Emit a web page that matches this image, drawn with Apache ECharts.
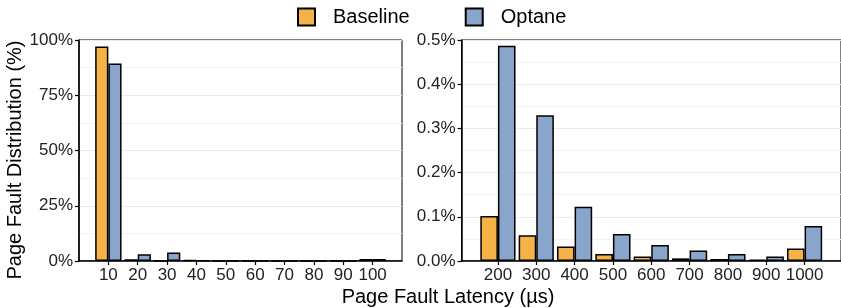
<!DOCTYPE html>
<html>
<head>
<meta charset="utf-8">
<script src="https://cdn.jsdelivr.net/npm/echarts@6/dist/echarts.min.js"></script>
<style>
  html, body { margin: 0; padding: 0; background: #fff; }
  #chart { width: 841px; height: 308px; }
</style>
</head>
<body>
<div id="chart"></div>
<script>
// 左图：延迟 10~100 µs 的分布（%）
const lowLatency = [10, 20, 30, 40, 50, 60, 70, 80, 90, 100];
const lowBaseline = [97.1, 0.8, 0.1, 0.4, 0.05, 0.05, 0.05, 0.05, 0.05, 0.9];
const lowOptane = [89.4, 3.0, 3.9, 0.3, 0.05, 0.05, 0.05, 0.05, 0.05, 0.9];

// 右图：延迟 200~1000 µs 的分布（%）
const highLatency = [200, 300, 400, 500, 600, 700, 800, 900, 1000];
const highBaseline = [0.102, 0.058, 0.033, 0.016, 0.010, 0.006, 0.0045, 0.003, 0.028];
const highOptane = [0.487, 0.330, 0.123, 0.061, 0.036, 0.024, 0.016, 0.010, 0.079];

const ORANGE = '#F5B347';
const BLUE = '#89A5CB';
const FONT = 'Liberation Sans';

function pairs(xs, ys) {
    return xs.map((x, i) => [x, ys[i]]);
}

function xAxisOf(idx, min, max, ticks) {
    return {
        type: 'value', gridIndex: idx, min: min, max: max,
        axisLine: { show: true, onZero: false, lineStyle: { color: '#000', width: 1.5 } },
        axisTick: { show: true, length: 4, lineStyle: { color: '#000', width: 1.2 }, customValues: ticks },
        axisLabel: { customValues: ticks, color: '#222', fontSize: 17, fontFamily: FONT, margin: 6,
            formatter: v => String(v) },
        splitLine: { show: false }
    };
}

function yAxisOf(idx, max, interval, fmt) {
    return {
        type: 'value', gridIndex: idx, min: 0, max: max, interval: interval,
        axisLine: { show: true, lineStyle: { color: '#000', width: 1.5 } },
        axisTick: { show: true, length: 4, lineStyle: { color: '#000', width: 1.2 } },
        axisLabel: { color: '#222', fontSize: 17, fontFamily: FONT, margin: 6, formatter: fmt },
        splitLine: { show: true, lineStyle: { color: '#ebebeb', width: 1.2 } },
        minorTick: { show: false, splitNumber: 2 },
        minorSplitLine: { show: true, lineStyle: { color: '#f2f2f2', width: 1 } }
    };
}

function barSeries(name, color, xi, data, width) {
    return {
        name: name, type: 'bar', xAxisIndex: xi, yAxisIndex: xi,
        data: data, barWidth: width, barGap: '0%',
        itemStyle: { color: color, borderColor: '#000', borderWidth: 1.5 },
        emphasis: { disabled: true }
    };
}

const chart = echarts.init(document.getElementById('chart'), null, { renderer: 'canvas' });
chart.setOption({
    animation: false,
    textStyle: { fontFamily: FONT },
    legend: {
        top: 2, left: 292, itemWidth: 17, itemHeight: 17, itemGap: 55,
        icon: 'rect',
        itemStyle: { borderColor: '#000', borderWidth: 2 },
        textStyle: { fontSize: 20, color: '#000', fontFamily: FONT, padding: [0, 0, 0, 13] },
        data: ['Baseline', 'Optane']
    },
    grid: [
        { left: 79, top: 40, width: 323, height: 221, show: true, borderColor: '#000', borderWidth: 1 },
        { left: 461.5, top: 40, width: 386, height: 221, show: true, borderColor: '#000', borderWidth: 1 }
    ],
    xAxis: [
        xAxisOf(0, 0, 110, lowLatency),
        xAxisOf(1, 105, 1095, highLatency)
    ],
    yAxis: [
        yAxisOf(0, 100, 25, v => v + '%'),
        yAxisOf(1, 0.5, 0.1, v => v.toFixed(1) + '%')
    ],
    series: [
        barSeries('Baseline', ORANGE, 0, pairs(lowLatency, lowBaseline), 13.2),
        barSeries('Optane', BLUE, 0, pairs(lowLatency, lowOptane), 13.2),
        barSeries('Baseline', ORANGE, 1, pairs(highLatency, highBaseline), 17.6),
        barSeries('Optane', BLUE, 1, pairs(highLatency, highOptane), 17.6)
    ],
    graphic: [
        {
            type: 'text', x: 448, y: 297,
            style: { text: 'Page Fault Latency (µs)', fontSize: 20, fontFamily: FONT, fill: '#000',
                align: 'center', verticalAlign: 'middle' }
        },
        {
            type: 'text', x: 15, y: 160, rotation: Math.PI / 2,
            style: { text: 'Page Fault Distribution (%)', fontSize: 20, fontFamily: FONT, fill: '#000',
                align: 'center', verticalAlign: 'middle' }
        }
    ]
});
</script>
</body>
</html>
